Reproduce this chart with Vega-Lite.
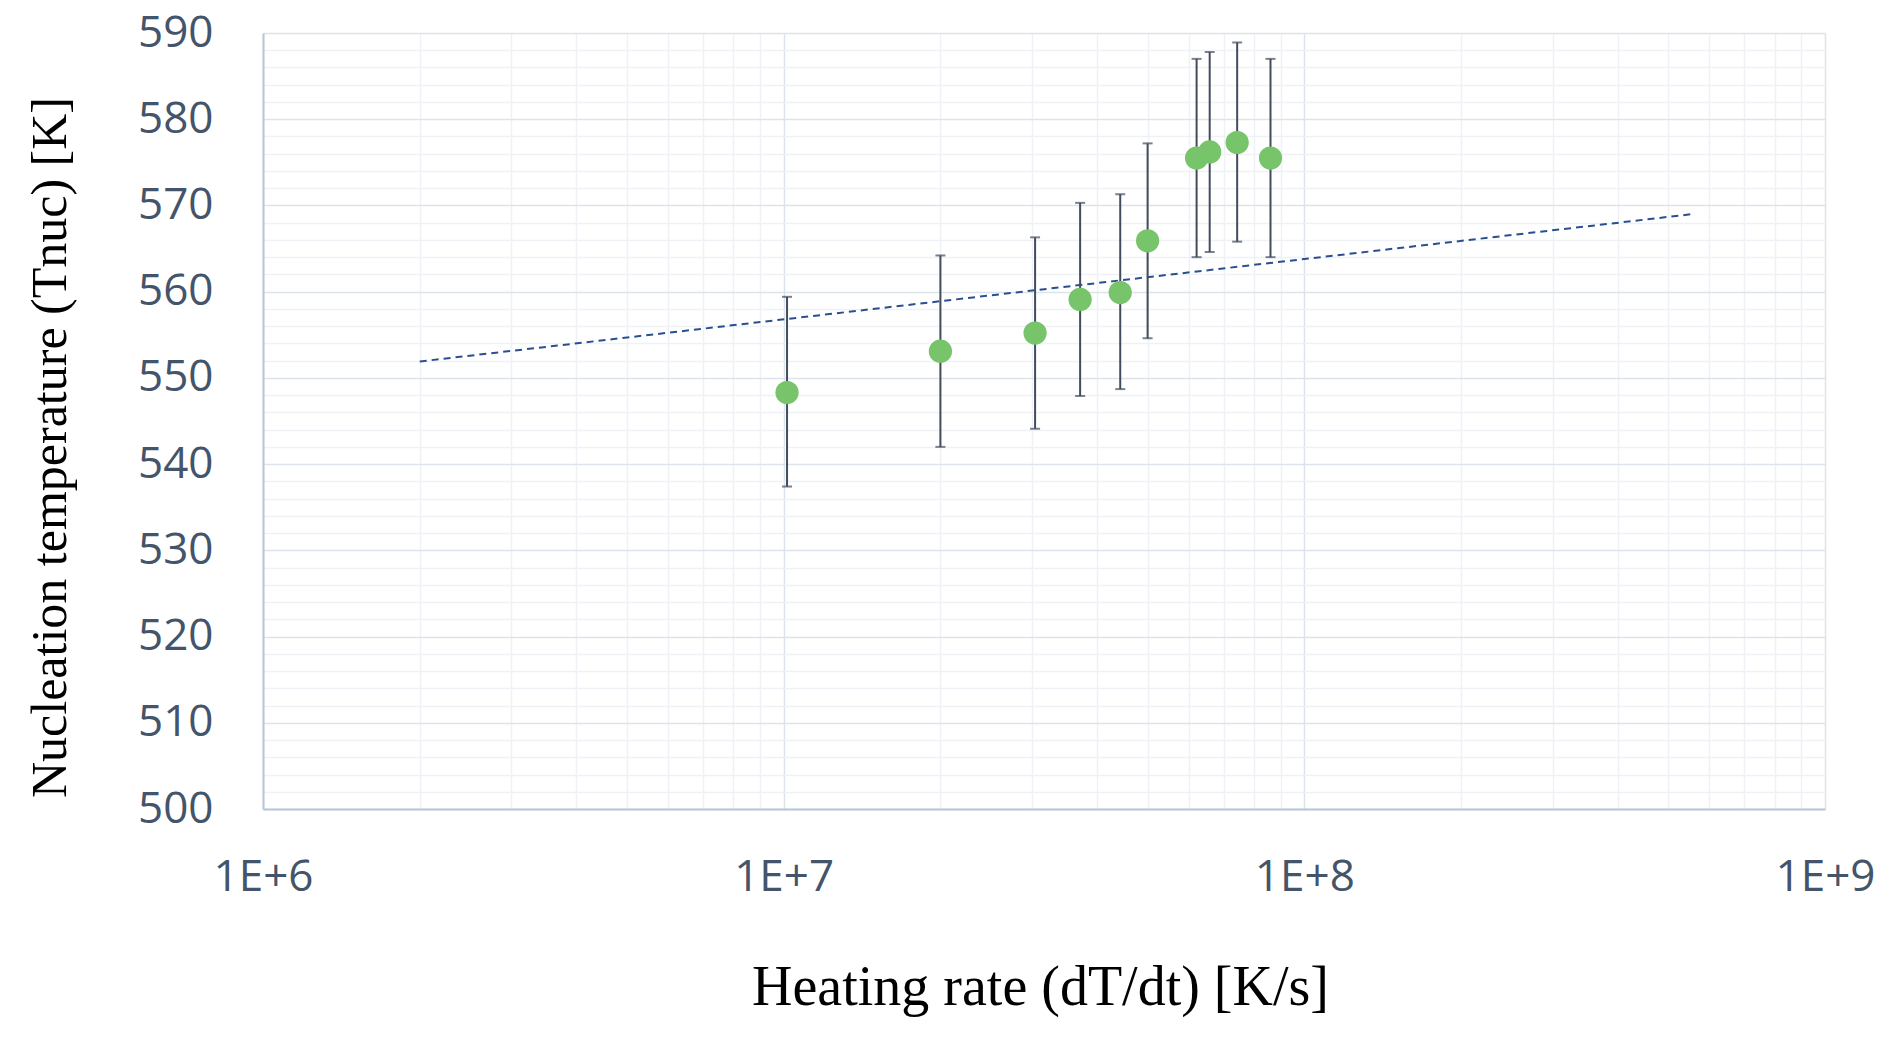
{
  "$schema": "https://vega.github.io/schema/vega-lite/v6.json",
  "width": 1562,
  "height": 776,
  "autosize": {"type": "none"},
  "padding": {"left": 263, "top": 33, "right": 58, "bottom": 231},
  "background": "white",
  "config": {"view": {"stroke": null}},
  "datasets": {
    "points": [
      {"rate": 10150000, "T": 548.3, "lo": 537.4, "hi": 559.4},
      {"rate": 20000000, "T": 553.1, "lo": 542.0, "hi": 564.2},
      {"rate": 30400000, "T": 555.2, "lo": 544.1, "hi": 566.3},
      {"rate": 37100000, "T": 559.1, "lo": 547.9, "hi": 570.3},
      {"rate": 44300000, "T": 559.9, "lo": 548.7, "hi": 571.3},
      {"rate": 50000000, "T": 565.9, "lo": 554.6, "hi": 577.2},
      {"rate": 62100000, "T": 575.5, "lo": 564.0, "hi": 587.0},
      {"rate": 65800000, "T": 576.2, "lo": 564.6, "hi": 587.8},
      {"rate": 74300000, "T": 577.3, "lo": 565.8, "hi": 588.9},
      {"rate": 86100000, "T": 575.5, "lo": 564.0, "hi": 587.0}
    ],
    "trend": [
      {"rate": 2000000, "T": 551.9},
      {"rate": 557000000, "T": 569.0}
    ]
  },
  "encoding": {
    "x": {
      "field": "rate", "type": "quantitative",
      "scale": {"type": "log", "domain": [1000000, 1000000000], "nice": false},
      "axis": {
        "title": "Heating rate (dT/dt)   [K/s]",
        "titleFont": "Liberation Serif", "titleFontSize": 56, "titleFontWeight": "normal", "titleColor": "#000000",
        "titleX": 777, "titleY": 178, "titleBaseline": "middle", "titleAlign": "center",
        "values": [1000000, 2000000, 3000000, 4000000, 5000000, 6000000, 7000000, 8000000, 9000000,
                   10000000, 20000000, 30000000, 40000000, 50000000, 60000000, 70000000, 80000000, 90000000,
                   100000000, 200000000, 300000000, 400000000, 500000000, 600000000, 700000000, 800000000, 900000000, 1000000000],
        "labelExpr": "abs(log(datum.value)/LN10 - round(log(datum.value)/LN10)) < 0.000001 ? '1E+' + round(log(datum.value)/LN10) : ''",
        "labelFont": "Open Sans", "labelFontSize": 44, "labelColor": "#44546A",
        "labelPadding": 46, "labelOverlap": false, "labelFlush": false,
        "ticks": false, "domainColor": "#B8C5D6", "domainWidth": 2,
        "grid": true,
        "gridColor": {"condition": {"test": "abs(log(datum.value)/LN10 - round(log(datum.value)/LN10)) < 0.000001", "value": "#DDE3EB"}, "value": "#EEF1F5"},
        "gridWidth": 1.5
      }
    },
    "y": {
      "field": "T", "type": "quantitative",
      "scale": {"domain": [500, 590], "nice": false, "zero": false},
      "axis": {
        "title": "Nucleation temperature (Tnuc) [K]",
        "titleFont": "Liberation Serif", "titleFontSize": 50, "titleFontWeight": "normal", "titleColor": "#000000",
        "titleAngle": -90, "titleX": -213, "titleY": 414, "titleBaseline": "middle", "titleAlign": "center",
        "values": [500, 502, 504, 506, 508, 510, 512, 514, 516, 518, 520, 522, 524, 526, 528, 530, 532, 534, 536, 538, 540, 542, 544, 546, 548, 550, 552, 554, 556, 558, 560, 562, 564, 566, 568, 570, 572, 574, 576, 578, 580, 582, 584, 586, 588, 590],
        "labelExpr": "datum.value % 10 === 0 ? datum.label : ''",
        "labelFont": "Open Sans", "labelFontSize": 44, "labelColor": "#44546A",
        "labelPadding": 50, "labelOverlap": false, "labelFlush": false,
        "ticks": false, "domainColor": "#B8C5D6", "domainWidth": 2,
        "grid": true,
        "gridColor": {"condition": {"test": "datum.value % 10 === 0", "value": "#DDE3EB"}, "value": "#EEF1F5"},
        "gridWidth": 1.5
      }
    }
  },
  "layer": [
    {
      "data": {"name": "trend"},
      "mark": {"type": "line", "color": "#2A4F8F", "strokeWidth": 2, "strokeDash": [7, 5]}
    },
    {
      "data": {"name": "points"},
      "mark": {"type": "rule", "color": "#414D5C", "strokeWidth": 2},
      "encoding": {
        "y": {"field": "lo", "type": "quantitative"},
        "y2": {"field": "hi"}
      }
    },
    {
      "data": {"name": "points"},
      "mark": {"type": "tick", "orient": "horizontal", "color": "#414D5C", "size": 10, "thickness": 2},
      "encoding": {
        "y": {"field": "lo", "type": "quantitative"}
      }
    },
    {
      "data": {"name": "points"},
      "mark": {"type": "tick", "orient": "horizontal", "color": "#414D5C", "size": 10, "thickness": 2},
      "encoding": {
        "y": {"field": "hi", "type": "quantitative"}
      }
    },
    {
      "data": {"name": "points"},
      "mark": {"type": "circle", "color": "#77C46B", "opacity": 1, "size": 540}
    }
  ]
}
